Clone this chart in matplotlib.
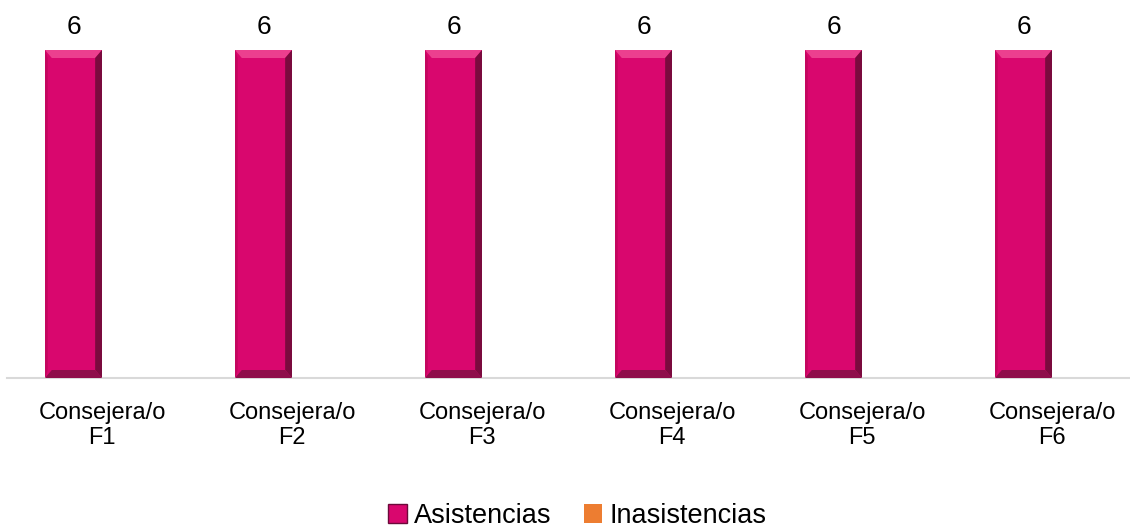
import numpy as np
import matplotlib.pyplot as plt
from matplotlib.patches import Polygon, Patch

categories = ["Consejera/o\nF1", "Consejera/o\nF2", "Consejera/o\nF3",
              "Consejera/o\nF4", "Consejera/o\nF5", "Consejera/o\nF6"]
asistencias = [6, 6, 6, 6, 6, 6]
inasistencias = [0, 0, 0, 0, 0, 0]

PINK = "#D9076E"
ORANGE = "#ED7D31"

plt.rcParams["font.family"] = ["Liberation Sans", "DejaVu Sans"]

fig = plt.figure(figsize=(11.3, 5.29), dpi=100)
# axes spans a bit past the right border, like the original
ax = fig.add_axes([7 / 1130, (529 - 378) / 529, 1140 / 1130, 358 / 529])

x = np.arange(len(categories))
w = 0.3
bars = ax.bar(x - w / 2, asistencias, w, color=PINK, edgecolor="none", zorder=2)
ax.bar(x + w / 2, inasistencias, w, color=ORANGE, edgecolor="none", zorder=2)

ax.set_xlim(-0.5, len(categories) - 0.5)
ax.set_ylim(0, 6 * 358 / 328)

# bevel look, built from each bar's extent
for b in bars:
    x0, y0 = b.get_x(), b.get_y()
    x1, y1 = x0 + b.get_width(), y0 + b.get_height()
    dx = b.get_width() * 0.12
    dy = 8 * 6 / 328
    ax.add_patch(Polygon([(x0, y1), (x1, y1), (x1 - dx, y1 - dy), (x0 + dx, y1 - dy)],
                         closed=True, color="#EC3F8F", lw=0, zorder=3))
    ax.add_patch(Polygon([(x1, y1), (x1, y0), (x1 - dx, y0 + dy), (x1 - dx, y1 - dy)],
                         closed=True, color="#7A0A3E", lw=0, zorder=3))
    ax.add_patch(Polygon([(x0, y0), (x1, y0), (x1 - dx, y0 + dy), (x0 + dx, y0 + dy)],
                         closed=True, color="#8E0D4A", lw=0, zorder=3))
    ax.add_patch(Polygon([(x0, y0), (x0, y1), (x0 + dx * 0.4, y1 - dy), (x0 + dx * 0.4, y0 + dy)],
                         closed=True, color="#C4065F", lw=0, zorder=3))
    ax.text(x0 + b.get_width() / 2, y1 + 0.2, str(int(b.get_height())),
            ha="center", va="bottom", fontsize=19)

ax.set_xticks(x)
ax.set_xticklabels(categories, fontsize=17, linespacing=1.2)
ax.tick_params(axis="x", length=0, pad=17)
ax.set_yticks([])
for s in ["top", "right", "left"]:
    ax.spines[s].set_visible(False)
ax.spines["bottom"].set_color("#D9D9D9")
ax.spines["bottom"].set_linewidth(1.5)

handles = [Patch(facecolor=PINK, edgecolor="#6B0A3A", label="Asistencias"),
           Patch(facecolor=ORANGE, edgecolor="none", label="Inasistencias")]
fig.legend(handles=handles, loc="center", bbox_to_anchor=(0.5 + 12 / 1130, 13 / 529),
           ncol=2, frameon=False, fontsize=19.5, handlelength=0.7, handleheight=0.7,
           handletextpad=0.25, columnspacing=1.2, borderaxespad=0, borderpad=0)

fig.savefig("out.png", dpi=100)
